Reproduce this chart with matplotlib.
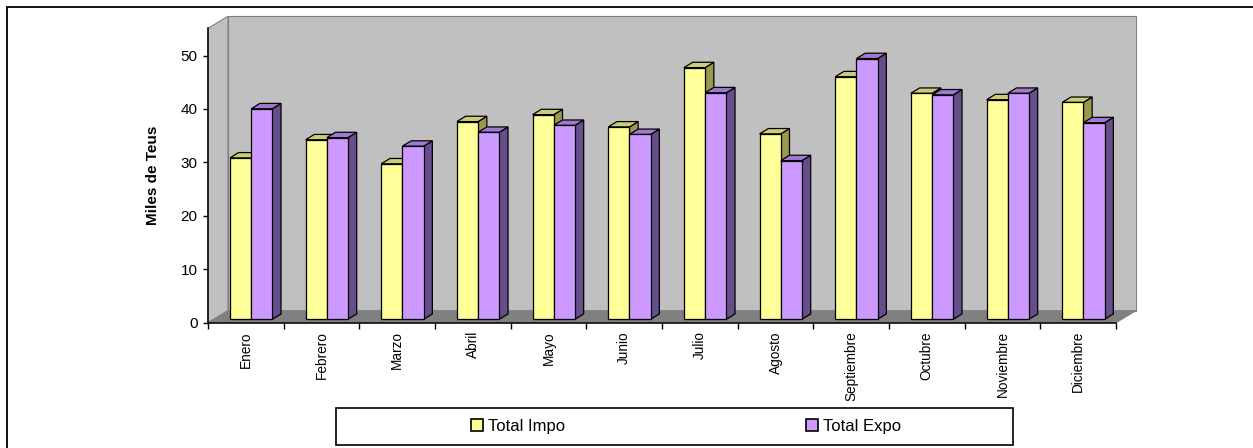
import numpy as np
import matplotlib.pyplot as plt
from matplotlib.patches import Rectangle, Polygon, Patch

plt.rcParams['font.family'] = ['Liberation Sans', 'DejaVu Sans']

months = ['Enero', 'Febrero', 'Marzo', 'Abril', 'Mayo', 'Junio', 'Julio',
          'Agosto', 'Septiembre', 'Octubre', 'Noviembre', 'Diciembre']
impo = [30.2, 33.6, 29.1, 37.0, 38.3, 36.0, 47.1, 34.7, 45.4, 42.3, 41.1, 40.6]
expo = [39.4, 34.0, 32.4, 35.0, 36.3, 34.6, 42.4, 29.7, 48.8, 42.0, 42.3, 36.8]
series_names = ['Total Impo', 'Total Expo']
yticks = [0, 10, 20, 30, 40, 50]

# colours: front, top, side
impo_cols = ('#FFFF99', '#CCCC77', '#99994D')
expo_cols = ('#CC99FF', '#9F7AD0', '#664D8C')

# 3d look, in data units
WALL_DX, WALL_DY = 0.264, 2.25
OX, OY = 0.07, 0.64
DX, DY = 0.115, 1.0
W = 0.28
YMAX = 55.1


def bar3d(ax, x, h, cols):
    x0, y0 = x + OX, OY
    kw = dict(edgecolor='black', linewidth=0.9, zorder=3, clip_on=False)
    ax.add_patch(Polygon([(x0 + W, y0), (x0 + W + DX, y0 + DY),
                          (x0 + W + DX, y0 + h + DY), (x0 + W, y0 + h)],
                         facecolor=cols[2], **kw))
    ax.add_patch(Polygon([(x0, y0 + h), (x0 + W, y0 + h),
                          (x0 + W + DX, y0 + h + DY), (x0 + DX, y0 + h + DY)],
                         facecolor=cols[1], **kw))
    ax.add_patch(Rectangle((x0, y0), W, h, facecolor=cols[0], **kw))


fig = plt.figure(figsize=(12.53, 4.48), dpi=100)
fig.patch.set_facecolor('white')

# outer frame (only top/left visible in the crop)
fig.patches.append(Rectangle((7 / 1253, -0.1), 1.2, 1.1 - 7 / 448 + 0.0,
                             transform=fig.transFigure, fill=False,
                             edgecolor='black', linewidth=1.3))

ax = fig.add_axes([208 / 1253, 125.3 / 448, 908 / 1253, 294.4 / 448])
ax.patch.set_visible(False)
n = len(months)
ax.set_xlim(0, n)
ax.set_ylim(0, YMAX)

# walls and floor
wall_kw = dict(edgecolor='#808080', linewidth=0.8, zorder=0.5, clip_on=False)
ax.add_patch(Rectangle((WALL_DX, WALL_DY), n, YMAX, facecolor='#C0C0C0', **wall_kw))
ax.add_patch(Polygon([(0, 0), (0, YMAX), (WALL_DX, YMAX + WALL_DY), (WALL_DX, WALL_DY)],
                     facecolor='#C0C0C0', **wall_kw))
ax.add_patch(Polygon([(0, 0), (n, 0), (n + WALL_DX, WALL_DY), (WALL_DX, WALL_DY)],
                     facecolor='#808080', **wall_kw))

x = np.arange(n)
for i in range(n):
    bar3d(ax, x[i] + 0.5 - W, impo[i], impo_cols)
    bar3d(ax, x[i] + 0.5, expo[i], expo_cols)

for s in ['top', 'right']:
    ax.spines[s].set_visible(False)
for s in ['left', 'bottom']:
    ax.spines[s].set_linewidth(1.1)
    ax.spines[s].set_zorder(4)

ax.set_yticks(yticks)
ax.set_yticklabels([str(t) for t in yticks], fontsize=11)
ax.tick_params(axis='y', length=3.6, width=1, pad=4)

ax.set_xticks(np.arange(n + 1))
ax.set_xticklabels([])
ax.tick_params(axis='x', which='major', length=4.5, width=1)
ax.set_xticks(x + 0.5, minor=True)
ax.set_xticklabels(months, minor=True, rotation=90, fontsize=9.8)
ax.tick_params(axis='x', which='minor', length=0, pad=6)

ax.set_ylabel('Miles de Teus', fontsize=11, fontweight='bold')
ax.yaxis.set_label_coords(-0.053, 0.5)

# legend
fig.patches.append(Rectangle((336 / 1253, 1 - 445 / 448), 677 / 1253, 37 / 448,
                             transform=fig.transFigure, facecolor='white',
                             edgecolor='black', linewidth=1.2, zorder=5))
handles = [Patch(facecolor=impo_cols[0], edgecolor='black', linewidth=1.2),
           Patch(facecolor=expo_cols[0], edgecolor='black', linewidth=1.2)]
leg = fig.legend(handles, series_names, loc='center',
                 bbox_to_anchor=(686 / 1253, 1 - 426.5 / 448), ncol=2,
                 frameon=False, fontsize=12, handlelength=0.7, handleheight=0.7,
                 handletextpad=0.3, columnspacing=14.5)
leg.set_zorder(6)

plt.savefig('out.png', dpi=100)
